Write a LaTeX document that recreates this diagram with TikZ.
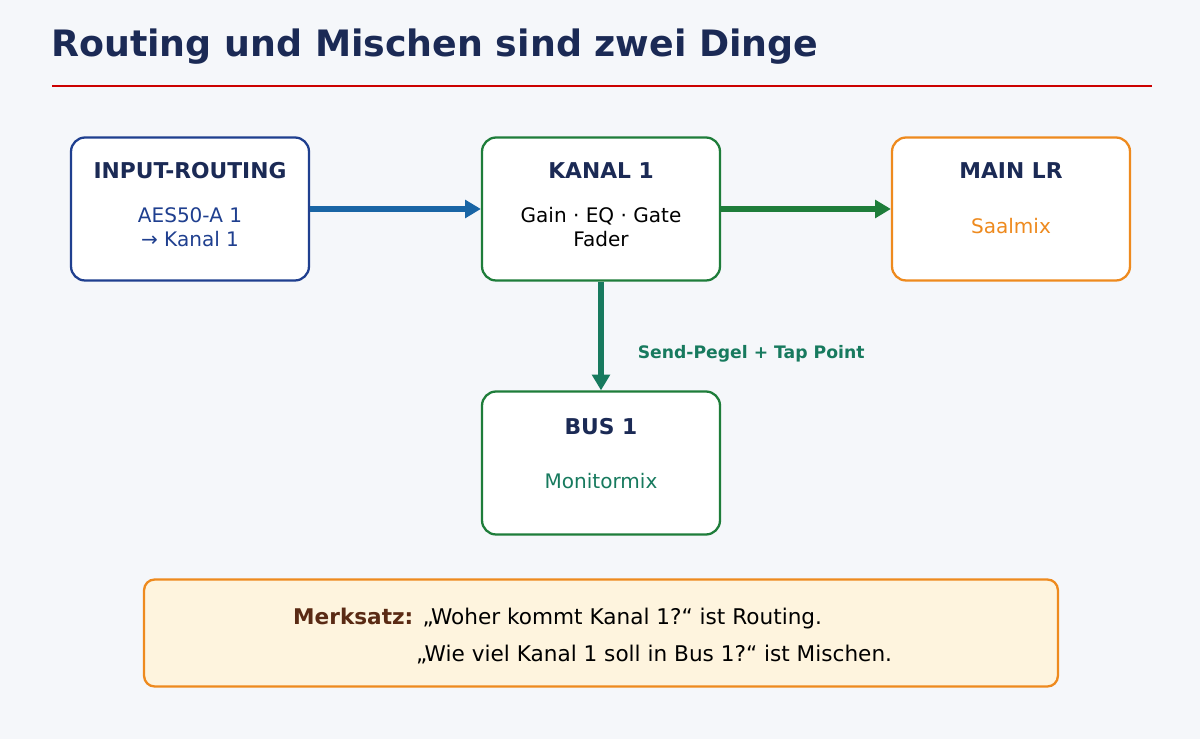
\documentclass[tikz,border=0pt]{standalone}
\usepackage{fontspec}
\setmainfont{DejaVu Sans}
\usetikzlibrary{positioning,arrows.meta}
\definecolor{navy}{HTML}{1B2A55}
\definecolor{bluebox}{HTML}{1F3F8F}
\definecolor{greenbox}{HTML}{1E7D3A}
\definecolor{tealbox}{HTML}{177A5E}
\definecolor{orangebox}{HTML}{EE8A1E}
\definecolor{bgcol}{HTML}{F5F7FA}
\definecolor{notefill}{HTML}{FEF4DE}
\definecolor{brownt}{HTML}{5A2A14}
\tikzset{
  box/.style={draw=#1, line width=1.3pt, rounded corners=8pt, fill=white,
    minimum width=4.76cm, minimum height=2.86cm},
  boxtitle/.style={font=\bfseries\fontsize{12.4}{14}\selectfont, text=navy},
  boxtext/.style={font=\fontsize{11.4}{13.8}\selectfont, align=center},
  flow/.style={line width=3.2pt, -{Triangle[length=9pt,width=10pt]}}
}
\begin{document}
\begin{tikzpicture}[x=0.02cm,y=-0.02cm]
  \fill[bgcol] (0,0) rectangle (1200,739);
  \useasboundingbox (0,0) rectangle (1200,739);
  \node[anchor=west, font=\bfseries\fontsize{20.7}{24}\selectfont, text=navy] (title) at (45,47) {Routing und Mischen sind zwei Dinge};
  \draw[red!80!black, line width=1.2pt] (52,86) -- (1152,86);
  % boxes
  \node[box=bluebox] (input) at (190,209) {};
  \node[box=greenbox] (kanal) at (601,209) {};
  \node[box=orangebox] (main) at (1011,209) {};
  \node[box=greenbox] (bus) at (601,463) {};
  % texts
  \node[boxtitle] at (190,171) {INPUT-ROUTING};
  \node[boxtext, text=bluebox] at (190,227) {AES50-A 1\\→ Kanal 1};
  \node[boxtitle] at (601,171) {KANAL 1};
  \node[boxtext, text=black] at (601,227) {Gain · EQ · Gate\\Fader};
  \node[boxtitle] at (1011,171) {MAIN LR};
  \node[boxtext, text=orangebox] at (1011,226) {Saalmix};
  \node[boxtitle] at (601,427) {BUS 1};
  \node[boxtext, text=tealbox] at (601,481) {Monitormix};
  % connectors
  \draw[flow, draw=bluebox!80!cyan] (input.east |- 0,209) -- (kanal.west |- 0,209);
  \draw[flow, draw=greenbox] (kanal.east |- 0,209) -- (main.west |- 0,209);
  \draw[flow, draw=tealbox] (kanal.south) -- node[right=16pt, pos=0.66, font=\bfseries\fontsize{9.8}{11}\selectfont, text=tealbox] {Send-Pegel + Tap Point} (bus.north);
  % note
  \node[draw=orangebox, line width=1.3pt, rounded corners=6pt, fill=notefill,
    minimum width=18.28cm, minimum height=2.14cm] (note) at (601,633) {};
  \node[anchor=west, font=\fontsize{12.3}{14}\selectfont] (line1) at (287,619) {{\bfseries\color{brownt}Merksatz:} „Woher kommt Kanal 1?“ ist Routing.};
  \node[anchor=west, font=\fontsize{12.3}{14}\selectfont] (line2) at (410,655) {„Wie viel Kanal 1 soll in Bus 1?“ ist Mischen.};
\end{tikzpicture}
\end{document}
